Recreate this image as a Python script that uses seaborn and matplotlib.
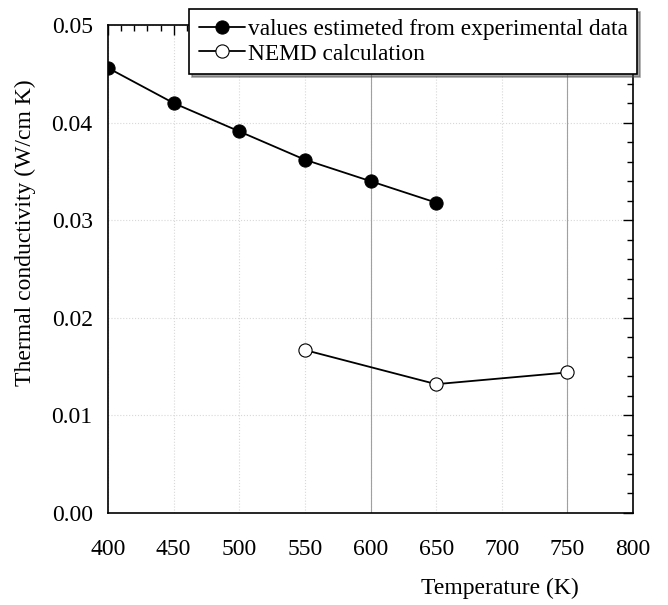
import seaborn as sns
import matplotlib.pyplot as plt
from matplotlib.ticker import MultipleLocator

temp_exp = [400, 450, 500, 550, 600, 650]
cond_exp = [0.0456, 0.0420, 0.0391, 0.0362, 0.0340, 0.0318]

temp_nemd = [550, 650, 750]
cond_nemd = [0.0167, 0.0132, 0.0144]

sns.set_style("white")
plt.rcParams['font.family'] = ['Liberation Serif', 'DejaVu Serif']
plt.rcParams['font.size'] = 17
plt.rcParams['text.color'] = 'black'
plt.rcParams['axes.labelcolor'] = 'black'
plt.rcParams['xtick.color'] = 'black'
plt.rcParams['ytick.color'] = 'black'

fig = plt.figure(figsize=(6.68, 6.05), dpi=100)
ax = fig.add_axes([108 / 668, 1 - 513 / 605, 525 / 668, 488 / 605])

# faint grid
ax.grid(True, which='major', color='#d8d8d8', linestyle=':', linewidth=0.8)
for xv in [600, 750]:
    ax.axvline(xv, color='#a0a0a0', linewidth=0.8, zorder=1)

sns.lineplot(x=temp_exp, y=cond_exp, ax=ax, color='black', linewidth=1.3,
             marker='o', markersize=9.5, markerfacecolor='black',
             markeredgecolor='black', label='values estimeted from experimental data')
sns.lineplot(x=temp_nemd, y=cond_nemd, ax=ax, color='black', linewidth=1.3,
             marker='o', markersize=9.5, markerfacecolor='white',
             markeredgecolor='black', markeredgewidth=0.8, label='NEMD calculation')

ax.set_xlim(400, 800)
ax.set_ylim(0, 0.05)
ax.xaxis.set_major_locator(MultipleLocator(50))
ax.xaxis.set_minor_locator(MultipleLocator(10))
ax.yaxis.set_major_locator(MultipleLocator(0.01))
ax.yaxis.set_minor_locator(MultipleLocator(0.002))
ax.yaxis.set_major_formatter(plt.FormatStrFormatter('%.2f'))
ax.tick_params(which='both', direction='in', top=True, right=True, labeltop=False, labelright=False)
ax.tick_params(axis='x', which='major', length=7, width=1, labelsize=17, pad=19)
ax.tick_params(axis='y', which='major', length=7, width=1, labelsize=17, pad=11)
ax.tick_params(which='minor', length=4, width=1)
for s in ax.spines.values():
    s.set_color('black')
    s.set_linewidth(1.2)

ax.set_ylabel('Thermal conductivity (W/cm K)', fontsize=17)
ax.set_xlabel('Temperature (K)', fontsize=17)
ax.xaxis.set_label_coords(0.747, -0.133)
ax.yaxis.set_label_coords(-0.137, 0.574)

leg = ax.legend(loc='upper right', bbox_to_anchor=(637 / 668, 1 - 9 / 605),
                bbox_transform=fig.transFigure, borderaxespad=0, fancybox=False,
                shadow=True, frameon=True, edgecolor='black', framealpha=1,
                handlelength=2.0, handletextpad=0.1, labelspacing=0.15,
                borderpad=0.4, fontsize=16.8)
leg.get_frame().set_linewidth(1.2)

fig.savefig('out.png', dpi=100)
plt.close()
